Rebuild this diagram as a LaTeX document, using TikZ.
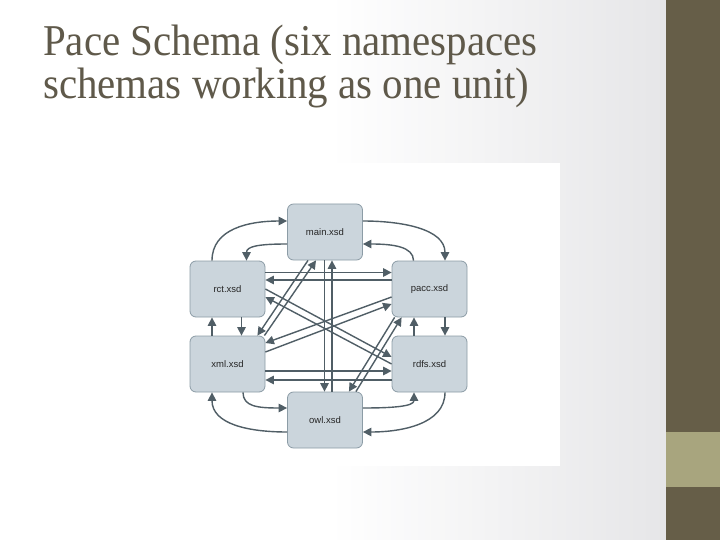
\documentclass[tikz,border=0pt]{standalone}
\usepackage{fontspec}
\setmainfont{Liberation Serif}[FakeStretch=0.93]
\newfontfamily\nodefont{Liberation Sans}
\usetikzlibrary{arrows.meta}
\definecolor{titlec}{RGB}{95,89,74}
\definecolor{barc}{RGB}{102,94,72}
\definecolor{bandc}{RGB}{168,165,126}
\definecolor{linec}{RGB}{80,94,102}
\definecolor{boxfill}{RGB}{203,213,220}
\definecolor{boxdraw}{RGB}{140,156,166}
\definecolor{bgright}{RGB}{230,230,232}
\begin{document}
\begin{tikzpicture}[x=1pt,y=-1pt,
  schemabox/.style={draw=boxdraw, fill=boxfill, line width=0.8pt, rounded corners=6pt,
    minimum width=75pt, minimum height=56pt, inner sep=0pt,
    font=\nodefont\fontsize{9.5}{10}\selectfont, text=black!85},
  link/.style={draw=linec, line width=1.4pt, -{Triangle[length=8.5pt,width=8.5pt]}},
  titletext/.style={anchor=base west, inner sep=0pt, text=titlec, font=\fontsize{44}{46}\selectfont}
]
\useasboundingbox (0,0) rectangle (720,540);
\fill[white] (0,0) rectangle (720,540);
\shade[left color=white, right color=bgright] (330,0) rectangle (666,540);
\fill[barc] (666,0) rectangle (720,540);
\fill[bandc] (666,432) rectangle (720,487);
\fill[white] (183,163) rectangle (560,466);

\node[titletext] (title1) at (43,56) {Pace Schema (six namespaces};
\node[titletext] (title2) at (43,99) {schemas working as one unit)};

\node[schemabox] (main) at (325,232) {main.xsd};
\node[schemabox] (rct)  at (227.5,289) {rct.xsd};
\node[schemabox] (pacc) at (429.5,289) {pacc.xsd};
\node[schemabox] (xml)  at (227.5,364) {xml.xsd};
\node[schemabox] (rdfs) at (429.5,364) {rdfs.xsd};
\node[schemabox] (owl)  at (325,420) {owl.xsd};

% curved outer arrows
\draw[link] ([xshift=-15.5pt]rct.north) .. controls +(0,-32) and +(-38,0) .. ([yshift=11pt]main.west);
\draw[link] ([yshift=-12pt]main.west) .. controls +(-30,0) and +(0,-14) .. ([xshift=19pt]rct.north);
\draw[link] ([yshift=11pt]main.east) .. controls +(38,0) and +(0,-32) .. ([xshift=15.5pt]pacc.north);
\draw[link] ([xshift=-16pt]pacc.north) .. controls +(0,-14) and +(30,0) .. ([yshift=-12pt]main.east);
\draw[link] ([xshift=15.5pt]xml.south) .. controls +(0,14) and +(-30,0) .. ([yshift=12pt]owl.west);
\draw[link] ([yshift=-12pt]owl.west) .. controls +(-38,0) and +(0,32) .. ([xshift=-15.5pt]xml.south);
\draw[link] ([yshift=12pt]owl.east) .. controls +(30,0) and +(0,14) .. ([xshift=-15.5pt]rdfs.south);
\draw[link] ([xshift=15.5pt]rdfs.south) .. controls +(0,32) and +(38,0) .. ([yshift=-12pt]owl.east);

% short verticals
\draw[link] ([xshift=14pt]rct.south) -- ([xshift=14pt]xml.north);
\draw[link] ([xshift=-15.5pt]xml.north) -- ([xshift=-15.5pt]rct.south);
\draw[link] ([xshift=15.5pt]pacc.south) -- ([xshift=15.5pt]rdfs.north);
\draw[link] ([xshift=-15.5pt]rdfs.north) -- ([xshift=-15.5pt]pacc.south);

% horizontals
\draw[link] ([yshift=16.5pt]rct.east) -- ([yshift=16.5pt]pacc.west);
\draw[link] ([yshift=9pt]pacc.west) -- ([yshift=9pt]rct.east);
\draw[link] ([yshift=-7pt]xml.east) -- ([yshift=-7pt]rdfs.west);
\draw[link] ([yshift=-16pt]rdfs.west) -- ([yshift=-16pt]xml.east);

% long verticals
\draw[link] ([xshift=-0.5pt]main.south) -- ([xshift=-0.5pt]owl.north);
\draw[link] ([xshift=7pt]owl.north) -- ([xshift=7pt]main.south);

% diagonals
\draw[link] ([xshift=-17pt]main.south) -- ([xshift=-8pt]xml.north east);
\draw[link] ([xshift=-1pt]xml.north east) -- ([xshift=-9pt]main.south);
\draw[link] ([yshift=-8pt]pacc.west) -- ([yshift=21pt]xml.east);
\draw[link] ([yshift=12pt]xml.east) -- ([yshift=-15pt]pacc.west);
\draw[link] (rct.east) -- ([yshift=7pt]rdfs.west);
\draw[link] (rdfs.west) -- ([yshift=-8pt]rct.east);
\draw[link] ([xshift=3pt]pacc.south west) -- ([xshift=-14pt]owl.north east);
\draw[link] ([xshift=-7pt]owl.north east) -- ([xshift=10pt]pacc.south west);
\end{tikzpicture}
\end{document}
